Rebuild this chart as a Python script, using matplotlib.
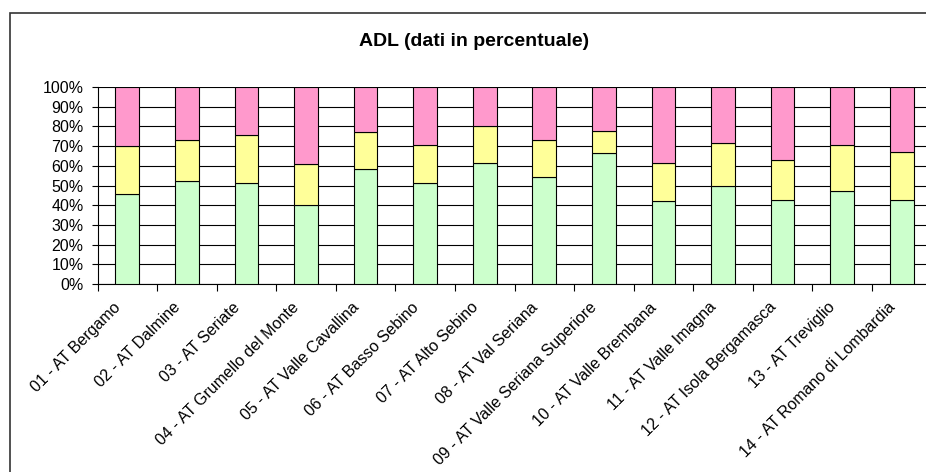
"""ADL stacked percentage bars per ambito territoriale."""

import matplotlib
matplotlib.use("Agg")
import matplotlib.pyplot as plt
from matplotlib.patches import Rectangle
from matplotlib.ticker import FixedLocator, FuncFormatter, NullFormatter
from matplotlib.transforms import ScaledTranslation
import numpy as np

CATEGORIES = [
    "01 - AT Bergamo",
    "02 - AT Dalmine",
    "03 - AT Seriate",
    "04 - AT Grumello del Monte",
    "05 - AT Valle Cavallina",
    "06 - AT Basso Sebino",
    "07 - AT Alto Sebino",
    "08 - AT Val Seriana",
    "09 - AT Valle Seriana Superiore",
    "10 - AT Valle Brembana",
    "11 - AT Valle Imagna",
    "12 - AT Isola Bergamasca",
    "13 - AT Treviglio",
    "14 - AT Romano di Lombardia",
]

# percentage shares, bottom to top
GREEN = [45.6, 52.2, 51.2, 40.0, 58.6, 51.2, 61.5, 54.4, 66.6, 42.0, 49.7, 42.4, 47.1, 42.4]
YELLOW = [24.7, 20.9, 24.2, 20.8, 18.5, 19.3, 18.7, 18.8, 11.2, 19.5, 21.7, 20.5, 23.7, 24.5]
PINK = [29.7, 26.9, 24.6, 39.2, 22.9, 29.5, 19.8, 26.8, 22.2, 38.5, 28.6, 37.1, 29.2, 33.1]

COLORS = ["#CCFFCC", "#FFFF99", "#FF99CC"]

plt.rcParams["font.family"] = ["Liberation Sans", "DejaVu Sans"]

W, H = 926, 472
fig = plt.figure(figsize=(W / 100, H / 100), dpi=100, facecolor="white")

# chart frame (runs off the right and bottom edges)
fig.patches.append(Rectangle((9.5 / W, -0.05), 1.1, 1 - 13 / H + 0.05,
                             transform=fig.transFigure, fill=False,
                             edgecolor="#333333", linewidth=1.2))

ax = fig.add_axes([97.5 / W, 1 - 284 / H, 834 / W, (284 - 87) / H])

x = np.arange(len(CATEGORIES))
bottom = np.zeros(len(CATEGORIES))
for series, color in zip([GREEN, YELLOW, PINK], COLORS):
    ax.bar(x, series, width=0.4, bottom=bottom, color=color,
           edgecolor="black", linewidth=0.8, zorder=3)
    bottom += np.array(series)

ax.set_xlim(-0.5, len(CATEGORIES) - 0.5)
ax.set_ylim(0, 100)
ax.set_yticks(np.arange(0, 101, 10))
ax.yaxis.set_major_formatter(FuncFormatter(lambda v, _: f"{v:.0f}%"))
ax.grid(axis="y", color="black", linewidth=0.8, zorder=0)

# tick marks sit between categories; the slanted names are placed by hand
ax.xaxis.set_major_locator(FixedLocator(np.arange(-0.5, len(CATEGORIES), 1)))
ax.xaxis.set_major_formatter(NullFormatter())
ax.tick_params(axis="x", length=5, width=0.8, color="black")
ax.tick_params(axis="y", length=4, width=0.8, color="black", labelsize=11.5, pad=6)

label_offset = ScaledTranslation(-0.09, -0.21, fig.dpi_scale_trans)
for xi, name in zip(x, CATEGORIES):
    ax.text(xi, 0, name, transform=ax.get_xaxis_transform() + label_offset,
            rotation=45, ha="right", va="center", rotation_mode="anchor",
            fontsize=11.5, clip_on=False)

for side in ["top", "right"]:
    ax.spines[side].set_visible(False)
ax.spines["left"].set_linewidth(0.8)
ax.spines["bottom"].set_linewidth(0.8)

fig.text(474 / W, 1 - 42 / H, "ADL (dati in percentuale)", ha="center", va="center",
         fontsize=14, fontweight="bold")

fig.savefig("out.png", dpi=100, facecolor="white")
